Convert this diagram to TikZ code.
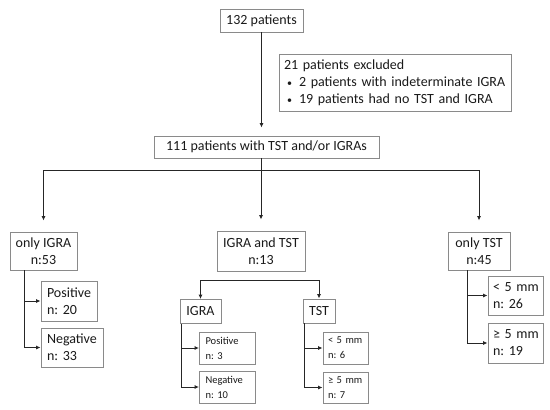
\documentclass[tikz,border=0pt]{standalone}
\usepackage{fontspec}
\setmainfont{Carlito}
\usetikzlibrary{arrows.meta}
\definecolor{boxgray}{HTML}{8A8A8A}
\definecolor{linegray}{HTML}{262626}
\definecolor{txt}{HTML}{1A1A1A}
\frenchspacing
\begin{document}
\begin{tikzpicture}[x=1pt,y=-1pt,
  big/.style={draw=boxgray, line width=0.9pt, inner sep=0pt, align=center, text=txt,
              font=\fontsize{14}{17}\selectfont},
  lbig/.style={big, align=left, inner xsep=6pt, inner ysep=0pt},
  lsmall/.style={draw=boxgray, line width=0.9pt, inner ysep=0pt, align=left, text=txt,
              font=\fontsize{10.5}{15}\selectfont},
  ln/.style={draw=linegray, line width=1pt},
  arr/.style={ln, -{Latex[length=4.5pt,width=4pt]}},
  arr2/.style={ln, {Latex[length=4.5pt,width=4pt]}-{Latex[length=4.5pt,width=4pt]}}]
\useasboundingbox[fill=white] (0,0) rectangle (550,410);

% top
\node[big, minimum width=83, minimum height=23] (n132) at (261.5,20.5) {132 patients};
\node[lbig, inner xsep=5pt, text width=222pt, minimum height=57] (excl) at (395,82.5)
  {\mbox{21 patients excluded}\\
   \mbox{\hspace*{3pt}\makebox[12pt][l]{\fontsize{10}{10}\selectfont•}2 patients with indeterminate IGRA}\\
   \mbox{\hspace*{3pt}\makebox[12pt][l]{\fontsize{10}{10}\selectfont•}19 patients had no TST and IGRA}};
\node[big, minimum width=225, minimum height=22] (n111) at (266.5,147) {111 patients with TST and/or IGRAs};

% second level
\node[big, minimum width=67, minimum height=38] (oigra) at (43.5,251) {only IGRA\\n:53};
\node[big, minimum width=88, minimum height=40] (both) at (261,251) {IGRA and TST\\n:13};
\node[big, minimum width=62, minimum height=38] (otst) at (479,251) {only TST\\n:45};

\draw[arr, shorten >=8pt] (n132) -- (n132 |- n111.north);
\coordinate (split) at (261,170);
\draw[arr, shorten >=11pt] (both.north |- n111.south) -- (both.north);
\draw[arr, shorten >=11pt] (split) -| (oigra.north);
\draw[arr, shorten >=11pt] (split) -| (otst.north);

% only IGRA branch
\node[lbig, text width=44pt, minimum height=40] (opos) at (69,301) {\mbox{Positive}\\\mbox{n: 20}};
\node[lbig, text width=50pt, minimum height=39] (oneg) at (72,347.5) {\mbox{Negative}\\\mbox{n: 33}};
\coordinate (ov) at ([xshift=15pt]oigra.south west);
\draw[arr] (ov) |- (opos.west);
\draw[arr] (ov) |- (oneg.west);

% IGRA and TST branch
\node[big, minimum width=41, minimum height=24] (igra) at (200.5,311.5) {IGRA};
\node[big, minimum width=32, minimum height=24] (tst) at (319,311) {TST};
\draw[arr2] (igra.north) |- (tst.north |- 0,280) -- (tst.north);

\node[lsmall, inner xsep=6pt, text width=44pt, minimum height=32] (ipos) at (227.5,348) {\mbox{Positive}\\\mbox{n: 3}};
\node[lsmall, inner xsep=6pt, text width=44pt, minimum height=32] (ineg) at (227.5,387) {\mbox{Negative}\\\mbox{n: 10}};
\coordinate (iv) at ([xshift=2pt]igra.south west);
\draw[arr] (iv) |- (ipos.west);
\draw[arr] (iv) |- (ineg.west);

\node[lsmall, inner xsep=5pt, text width=35pt, minimum height=32] (tlo) at (345.5,348) {\mbox{< 5 mm}\\\mbox{n: 6}};
\node[lsmall, inner xsep=5pt, text width=35pt, minimum height=31] (thi) at (345.5,387.5) {\mbox{≥ 5 mm}\\\mbox{n: 7}};
\coordinate (tv) at ([xshift=2pt]tst.south west);
\draw[arr] (tv) |- (tlo.west);
\draw[arr] (tv) |- (thi.west);

% only TST branch
\node[lbig, inner xsep=5pt, text width=45pt, minimum height=39] (olo) at (515.5,295.5) {\mbox{< 5 mm}\\\mbox{n: 26}};
\node[lbig, inner xsep=5pt, text width=45pt, minimum height=40] (ohi) at (515.5,343) {\mbox{≥ 5 mm}\\\mbox{n: 19}};
\coordinate (tv2) at ([xshift=20pt]otst.south west);
\draw[arr] (tv2) |- (olo.west);
\draw[arr] (tv2) |- (ohi.west);
\end{tikzpicture}
\end{document}
